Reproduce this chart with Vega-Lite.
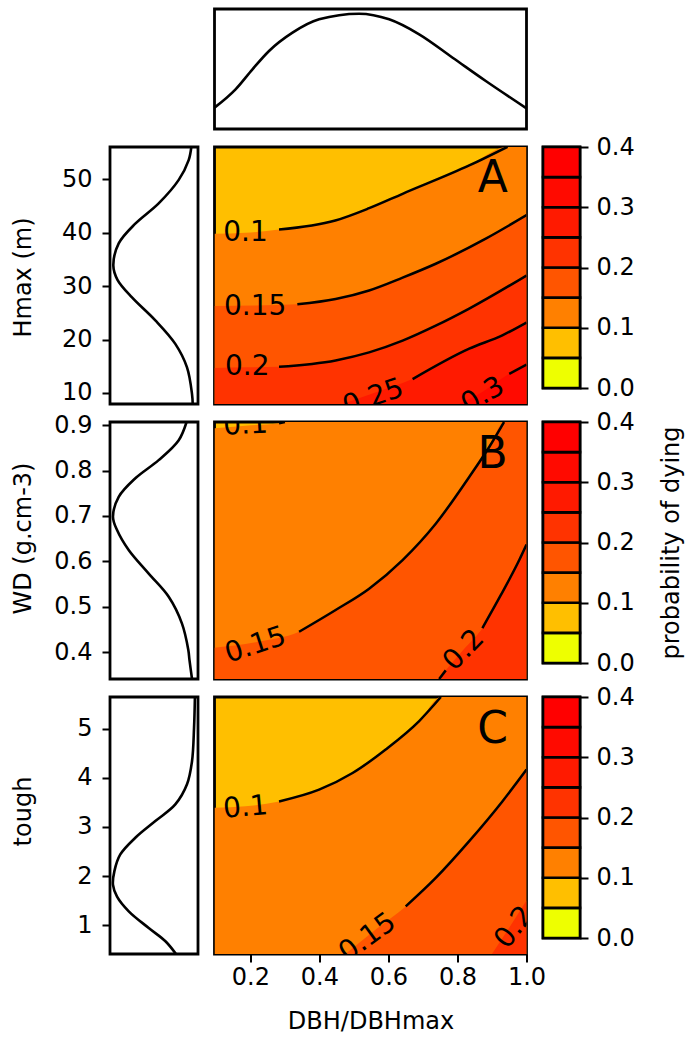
{
  "$schema": "https://vega.github.io/schema/vega-lite/v6.json",
  "padding": {"left": 9, "top": 7, "right": 2, "bottom": 2},
  "columns": 3,
  "spacing": {"row": 18, "column": 16.5},
  "bounds": "flush",
  "align": "each",
  "center": true,
  "config": {
    "font": "DejaVu Sans",
    "view": {"stroke": "black", "strokeWidth": 2.8},
    "axis": {"domain": false, "grid": false, "ticks": true, "tickColor": "black", "tickWidth": 2, "tickSize": 8,
      "labelFont": "DejaVu Sans", "labelFontSize": 24, "labelColor": "black", "labelFlush": false, "labelOverlap": false,
      "titleFont": "DejaVu Sans", "titleFontSize": 24, "titleFontWeight": "normal", "titleColor": "black"},
    "text": {"font": "DejaVu Sans", "color": "black", "align": "center", "baseline": "middle", "fontSize": 28}
  },
  "datasets": {
    "bands": [
      {"level": 0, "hi": 0.05}, {"level": 0.05, "hi": 0.1}, {"level": 0.1, "hi": 0.15}, {"level": 0.15, "hi": 0.2},
      {"level": 0.2, "hi": 0.25}, {"level": 0.25, "hi": 0.3}, {"level": 0.3, "hi": 0.35}, {"level": 0.35, "hi": 0.4}
    ],
    "contours": [
      {"panel": "A", "level": 0.1, "x": 0.096, "v": 39.8}, {"panel": "A", "level": 0.1, "x": 0.186, "v": 40.0}, {"panel": "A", "level": 0.1, "x": 0.283, "v": 40.6}, {"panel": "A", "level": 0.1, "x": 0.446, "v": 42.3}, {"panel": "A", "level": 0.1, "x": 0.544, "v": 44.6}, {"panel": "A", "level": 0.1, "x": 0.641, "v": 47.3}, {"panel": "A", "level": 0.1, "x": 0.834, "v": 52.6}, {"panel": "A", "level": 0.1, "x": 0.945, "v": 56.1}, {"panel": "A", "level": 0.1, "x": 1.0, "v": 56.1},
      {"panel": "A", "level": 0.15, "x": 0.096, "v": 26.3}, {"panel": "A", "level": 0.15, "x": 0.214, "v": 26.4}, {"panel": "A", "level": 0.15, "x": 0.336, "v": 26.6}, {"panel": "A", "level": 0.15, "x": 0.447, "v": 27.6}, {"panel": "A", "level": 0.15, "x": 0.544, "v": 29.2}, {"panel": "A", "level": 0.15, "x": 0.641, "v": 31.6}, {"panel": "A", "level": 0.15, "x": 0.737, "v": 34.2}, {"panel": "A", "level": 0.15, "x": 0.882, "v": 38.9}, {"panel": "A", "level": 0.15, "x": 1.0, "v": 43.3},
      {"panel": "A", "level": 0.2, "x": 0.096, "v": 14.7}, {"panel": "A", "level": 0.2, "x": 0.191, "v": 14.8}, {"panel": "A", "level": 0.2, "x": 0.283, "v": 14.9}, {"panel": "A", "level": 0.2, "x": 0.447, "v": 16.1}, {"panel": "A", "level": 0.2, "x": 0.544, "v": 17.6}, {"panel": "A", "level": 0.2, "x": 0.641, "v": 19.8}, {"panel": "A", "level": 0.2, "x": 0.737, "v": 22.6}, {"panel": "A", "level": 0.2, "x": 0.834, "v": 25.8}, {"panel": "A", "level": 0.2, "x": 1.0, "v": 32.0},
      {"panel": "A", "level": 0.25, "x": 0.467, "v": 7.94}, {"panel": "A", "level": 0.25, "x": 0.554, "v": 9.9}, {"panel": "A", "level": 0.25, "x": 0.670, "v": 12.6}, {"panel": "A", "level": 0.25, "x": 0.834, "v": 18.3}, {"panel": "A", "level": 0.25, "x": 0.930, "v": 20.8}, {"panel": "A", "level": 0.25, "x": 1.0, "v": 23.2},
      {"panel": "A", "level": 0.3, "x": 0.805, "v": 7.94}, {"panel": "A", "level": 0.3, "x": 0.872, "v": 10.2}, {"panel": "A", "level": 0.3, "x": 0.950, "v": 13.6}, {"panel": "A", "level": 0.3, "x": 1.0, "v": 15.3},
      {"panel": "B", "level": 0.1, "x": 0.096, "v": 0.893}, {"panel": "B", "level": 0.1, "x": 0.186, "v": 0.899}, {"panel": "B", "level": 0.1, "x": 0.283, "v": 0.904}, {"panel": "B", "level": 0.1, "x": 0.300, "v": 0.907}, {"panel": "B", "level": 0.1, "x": 1.0, "v": 0.907},
      {"panel": "B", "level": 0.15, "x": 0.096, "v": 0.410}, {"panel": "B", "level": 0.15, "x": 0.215, "v": 0.422}, {"panel": "B", "level": 0.15, "x": 0.341, "v": 0.445}, {"panel": "B", "level": 0.15, "x": 0.447, "v": 0.493}, {"panel": "B", "level": 0.15, "x": 0.544, "v": 0.540}, {"panel": "B", "level": 0.15, "x": 0.641, "v": 0.603}, {"panel": "B", "level": 0.15, "x": 0.737, "v": 0.683}, {"panel": "B", "level": 0.15, "x": 0.834, "v": 0.786}, {"panel": "B", "level": 0.15, "x": 0.892, "v": 0.852}, {"panel": "B", "level": 0.15, "x": 0.935, "v": 0.907}, {"panel": "B", "level": 0.15, "x": 1.0, "v": 0.907},
      {"panel": "B", "level": 0.2, "x": 0.747, "v": 0.341}, {"panel": "B", "level": 0.2, "x": 0.766, "v": 0.360}, {"panel": "B", "level": 0.2, "x": 0.819, "v": 0.407}, {"panel": "B", "level": 0.2, "x": 0.872, "v": 0.453}, {"panel": "B", "level": 0.2, "x": 0.925, "v": 0.525}, {"panel": "B", "level": 0.2, "x": 0.979, "v": 0.603}, {"panel": "B", "level": 0.2, "x": 1.0, "v": 0.637},
      {"panel": "C", "level": 0.1, "x": 0.096, "v": 3.39}, {"panel": "C", "level": 0.1, "x": 0.186, "v": 3.42}, {"panel": "C", "level": 0.1, "x": 0.283, "v": 3.52}, {"panel": "C", "level": 0.1, "x": 0.399, "v": 3.76}, {"panel": "C", "level": 0.1, "x": 0.496, "v": 4.10}, {"panel": "C", "level": 0.1, "x": 0.592, "v": 4.58}, {"panel": "C", "level": 0.1, "x": 0.689, "v": 5.16}, {"panel": "C", "level": 0.1, "x": 0.752, "v": 5.65}, {"panel": "C", "level": 0.1, "x": 1.0, "v": 5.65},
      {"panel": "C", "level": 0.15, "x": 0.475, "v": 0.41}, {"panel": "C", "level": 0.15, "x": 0.565, "v": 0.92}, {"panel": "C", "level": 0.15, "x": 0.650, "v": 1.38}, {"panel": "C", "level": 0.15, "x": 0.737, "v": 1.96}, {"panel": "C", "level": 0.15, "x": 0.834, "v": 2.71}, {"panel": "C", "level": 0.15, "x": 0.930, "v": 3.52}, {"panel": "C", "level": 0.15, "x": 1.0, "v": 4.17},
      {"panel": "C", "level": 0.2, "x": 0.900, "v": 0.41}, {"panel": "C", "level": 0.2, "x": 0.955, "v": 1.0}, {"panel": "C", "level": 0.2, "x": 1.0, "v": 1.5}
    ],
    "lines": [
      {"panel": "A", "id": "a1", "x": 0.283, "v": 40.6}, {"panel": "A", "id": "a1", "x": 0.446, "v": 42.3}, {"panel": "A", "id": "a1", "x": 0.544, "v": 44.6}, {"panel": "A", "id": "a1", "x": 0.641, "v": 47.3}, {"panel": "A", "id": "a1", "x": 0.834, "v": 52.6}, {"panel": "A", "id": "a1", "x": 0.945, "v": 56.1},
      {"panel": "A", "id": "a2", "x": 0.336, "v": 26.6}, {"panel": "A", "id": "a2", "x": 0.447, "v": 27.6}, {"panel": "A", "id": "a2", "x": 0.544, "v": 29.2}, {"panel": "A", "id": "a2", "x": 0.641, "v": 31.6}, {"panel": "A", "id": "a2", "x": 0.737, "v": 34.2}, {"panel": "A", "id": "a2", "x": 0.882, "v": 38.9}, {"panel": "A", "id": "a2", "x": 1.0, "v": 43.3},
      {"panel": "A", "id": "a3", "x": 0.283, "v": 14.9}, {"panel": "A", "id": "a3", "x": 0.447, "v": 16.1}, {"panel": "A", "id": "a3", "x": 0.544, "v": 17.6}, {"panel": "A", "id": "a3", "x": 0.641, "v": 19.8}, {"panel": "A", "id": "a3", "x": 0.737, "v": 22.6}, {"panel": "A", "id": "a3", "x": 0.834, "v": 25.8}, {"panel": "A", "id": "a3", "x": 1.0, "v": 32.0},
      {"panel": "A", "id": "a4", "x": 0.670, "v": 12.6}, {"panel": "A", "id": "a4", "x": 0.834, "v": 18.3}, {"panel": "A", "id": "a4", "x": 0.930, "v": 20.8}, {"panel": "A", "id": "a4", "x": 1.0, "v": 23.2},
      {"panel": "A", "id": "a5", "x": 0.950, "v": 13.6}, {"panel": "A", "id": "a5", "x": 1.0, "v": 15.3},
      {"panel": "B", "id": "b1", "x": 0.283, "v": 0.904}, {"panel": "B", "id": "b1", "x": 0.300, "v": 0.907},
      {"panel": "B", "id": "b2", "x": 0.341, "v": 0.445}, {"panel": "B", "id": "b2", "x": 0.447, "v": 0.493}, {"panel": "B", "id": "b2", "x": 0.544, "v": 0.540}, {"panel": "B", "id": "b2", "x": 0.641, "v": 0.603}, {"panel": "B", "id": "b2", "x": 0.737, "v": 0.683}, {"panel": "B", "id": "b2", "x": 0.834, "v": 0.786}, {"panel": "B", "id": "b2", "x": 0.892, "v": 0.852}, {"panel": "B", "id": "b2", "x": 0.935, "v": 0.907},
      {"panel": "B", "id": "b3", "x": 0.747, "v": 0.341}, {"panel": "B", "id": "b3", "x": 0.766, "v": 0.360},
      {"panel": "B", "id": "b4", "x": 0.872, "v": 0.453}, {"panel": "B", "id": "b4", "x": 0.925, "v": 0.525}, {"panel": "B", "id": "b4", "x": 0.979, "v": 0.603}, {"panel": "B", "id": "b4", "x": 1.0, "v": 0.637},
      {"panel": "C", "id": "c1", "x": 0.283, "v": 3.52}, {"panel": "C", "id": "c1", "x": 0.399, "v": 3.76}, {"panel": "C", "id": "c1", "x": 0.496, "v": 4.10}, {"panel": "C", "id": "c1", "x": 0.592, "v": 4.58}, {"panel": "C", "id": "c1", "x": 0.689, "v": 5.16}, {"panel": "C", "id": "c1", "x": 0.752, "v": 5.65},
      {"panel": "C", "id": "c2", "x": 0.650, "v": 1.38}, {"panel": "C", "id": "c2", "x": 0.737, "v": 1.96}, {"panel": "C", "id": "c2", "x": 0.834, "v": 2.71}, {"panel": "C", "id": "c2", "x": 0.930, "v": 3.52}, {"panel": "C", "id": "c2", "x": 1.0, "v": 4.17}
    ],
    "labels": [
      {"panel": "A", "id": "A1", "label": "0.1", "x": 0.186, "v": 39.9},
      {"panel": "A", "id": "A2", "label": "0.15", "x": 0.214, "v": 26.1},
      {"panel": "A", "id": "A3", "label": "0.2", "x": 0.191, "v": 14.8},
      {"panel": "A", "id": "A4", "label": "0.25", "x": 0.556, "v": 9.1},
      {"panel": "A", "id": "A5", "label": "0.3", "x": 0.874, "v": 9.5},
      {"panel": "B", "id": "B1", "label": "0.1", "x": 0.186, "v": 0.899},
      {"panel": "B", "id": "B2", "label": "0.15", "x": 0.215, "v": 0.415},
      {"panel": "B", "id": "B3", "label": "0.2", "x": 0.819, "v": 0.404},
      {"panel": "C", "id": "C1", "label": "0.1", "x": 0.186, "v": 3.39},
      {"panel": "C", "id": "C2", "label": "0.15", "x": 0.54, "v": 0.74},
      {"panel": "C", "id": "C3", "label": "0.2", "x": 0.966, "v": 0.95}
    ],
    "letters": [
      {"panel": "A", "letter": "A", "x": 0.902, "v": 50.0},
      {"panel": "B", "letter": "B", "x": 0.902, "v": 0.834},
      {"panel": "C", "letter": "C", "x": 0.902, "v": 4.97}
    ],
    "dens_top": [
      {"x": 0.096, "d": 0.178}, {"x": 0.157, "d": 0.331}, {"x": 0.206, "d": 0.4975}, {"x": 0.254, "d": 0.65}, {"x": 0.322, "d": 0.8025}, {"x": 0.399, "d": 0.914}, {"x": 0.515, "d": 0.961}, {"x": 0.602, "d": 0.914}, {"x": 0.689, "d": 0.789}, {"x": 0.786, "d": 0.594}, {"x": 0.882, "d": 0.40}, {"x": 1.0, "d": 0.1725}
    ],
    "dens_left": [
      {"panel": "A", "v": 56.06, "d": 0.076}, {"panel": "A", "v": 53.6, "d": 0.106}, {"panel": "A", "v": 49.9, "d": 0.219}, {"panel": "A", "v": 45.5, "d": 0.447}, {"panel": "A", "v": 41.7, "d": 0.7125}, {"panel": "A", "v": 38.0, "d": 0.901}, {"panel": "A", "v": 33.8, "d": 0.962}, {"panel": "A", "v": 31.2, "d": 0.915}, {"panel": "A", "v": 27.9, "d": 0.75}, {"panel": "A", "v": 23.6, "d": 0.485}, {"panel": "A", "v": 19.2, "d": 0.258}, {"panel": "A", "v": 14.8, "d": 0.125}, {"panel": "A", "v": 9.8, "d": 0.068}, {"panel": "A", "v": 7.94, "d": 0.06},
      {"panel": "B", "v": 0.907, "d": 0.13}, {"panel": "B", "v": 0.867, "d": 0.219}, {"panel": "B", "v": 0.823, "d": 0.447}, {"panel": "B", "v": 0.783, "d": 0.712}, {"panel": "B", "v": 0.742, "d": 0.901}, {"panel": "B", "v": 0.698, "d": 0.966}, {"panel": "B", "v": 0.669, "d": 0.92}, {"panel": "B", "v": 0.625, "d": 0.788}, {"panel": "B", "v": 0.573, "d": 0.56}, {"panel": "B", "v": 0.522, "d": 0.333}, {"panel": "B", "v": 0.463, "d": 0.182}, {"panel": "B", "v": 0.405, "d": 0.11}, {"panel": "B", "v": 0.383, "d": 0.097}, {"panel": "B", "v": 0.341, "d": 0.068},
      {"panel": "C", "v": 5.65, "d": 0.035}, {"panel": "C", "v": 5.02, "d": 0.045}, {"panel": "C", "v": 4.34, "d": 0.068}, {"panel": "C", "v": 3.87, "d": 0.125}, {"panel": "C", "v": 3.46, "d": 0.258}, {"panel": "C", "v": 3.12, "d": 0.485}, {"panel": "C", "v": 2.78, "d": 0.712}, {"panel": "C", "v": 2.44, "d": 0.883}, {"panel": "C", "v": 2.1, "d": 0.95}, {"panel": "C", "v": 1.82, "d": 0.966}, {"panel": "C", "v": 1.58, "d": 0.92}, {"panel": "C", "v": 1.28, "d": 0.787}, {"panel": "C", "v": 0.94, "d": 0.56}, {"panel": "C", "v": 0.67, "d": 0.37}, {"panel": "C", "v": 0.41, "d": 0.25}
    ]
  },
  "concat": [
    {"width": 1, "height": 1, "view": {"stroke": null}, "data": {"values": [{"a": 1}]}, "mark": {"type": "point", "opacity": 0}},
    {
      "width": 312, "height": 120,
      "data": {"name": "dens_top"},
      "mark": {"type": "line", "color": "black", "strokeWidth": 2.6, "interpolate": "monotone"},
      "encoding": {
        "x": {"field": "x", "type": "quantitative", "scale": {"domain": [0.096, 1.0], "nice": false, "zero": false}, "axis": null},
        "y": {"field": "d", "type": "quantitative", "scale": {"domain": [0, 1], "nice": false}, "axis": null}
      }
    },
    {"width": 1, "height": 1, "view": {"stroke": null}, "data": {"values": [{"a": 1}]}, "mark": {"type": "point", "opacity": 0}},

    {
      "width": 88, "height": 257,
      "data": {"name": "dens_left"},
      "transform": [{"filter": "datum.panel === 'A'"}],
      "mark": {"type": "line", "color": "black", "strokeWidth": 2.6, "interpolate": "catmull-rom", "clip": true},
      "encoding": {
        "x": {"field": "d", "type": "quantitative", "scale": {"domain": [0, 1], "nice": false, "reverse": true}, "axis": null},
        "y": {"field": "v", "type": "quantitative", "scale": {"domain": [7.94, 56.06], "nice": false, "zero": false},
              "axis": {"values": [10, 20, 30, 40, 50], "title": "Hmax (m)", "labelPadding": 10, "titleAngle": 270, "titleX": -80, "titleY": 130, "titleAlign": "center", "titleBaseline": "alphabetic"}},
        "order": {"field": "v", "type": "quantitative"}
      }
    },
    {
      "width": 312, "height": 257,
      "view": {"fill": "#FFBF00"},
      "encoding": {
        "x": {"field": "x", "type": "quantitative", "scale": {"domain": [0.096, 1.0], "nice": false, "zero": false}, "axis": null},
        "y": {"field": "v", "type": "quantitative", "scale": {"domain": [7.94, 56.06], "nice": false, "zero": false}, "axis": null}
      },
      "layer": [
        {
          "data": {"name": "contours"},
          "transform": [{"filter": "datum.panel === 'A'"}],
          "mark": {"type": "area", "clip": true, "interpolate": "monotone"},
          "encoding": {
            "y": {"field": "v", "type": "quantitative", "stack": null},
            "y2": {"datum": 0},
            "color": {"field": "level", "type": "ordinal", "scale": {"domain": [0, 0.05, 0.1, 0.15, 0.2, 0.25, 0.3, 0.35], "range": ["#EEFF00", "#FFBF00", "#FF8000", "#FF5500", "#FF3300", "#FF1A00", "#FF0A00", "#FF0000"]}, "legend": null}
          }
        },
        {
          "data": {"name": "lines"},
          "transform": [{"filter": "datum.panel === 'A'"}],
          "mark": {"type": "line", "clip": true, "color": "black", "strokeWidth": 2.5, "interpolate": "monotone"},
          "encoding": {"detail": {"field": "id"}}
        },
        {"data": {"name": "labels"}, "transform": [{"filter": "datum.id === 'A1'"}], "mark": {"type": "text", "clip": true, "angle": 0}, "encoding": {"text": {"field": "label"}}},
        {"data": {"name": "labels"}, "transform": [{"filter": "datum.id === 'A2'"}], "mark": {"type": "text", "clip": true, "angle": 0}, "encoding": {"text": {"field": "label"}}},
        {"data": {"name": "labels"}, "transform": [{"filter": "datum.id === 'A3'"}], "mark": {"type": "text", "clip": true, "angle": 0}, "encoding": {"text": {"field": "label"}}},
        {"data": {"name": "labels"}, "transform": [{"filter": "datum.id === 'A4'"}], "mark": {"type": "text", "clip": true, "angle": -19}, "encoding": {"text": {"field": "label"}}},
        {"data": {"name": "labels"}, "transform": [{"filter": "datum.id === 'A5'"}], "mark": {"type": "text", "clip": true, "angle": -30}, "encoding": {"text": {"field": "label"}}},
        {
          "data": {"name": "letters"},
          "transform": [{"filter": "datum.panel === 'A'"}],
          "mark": {"type": "text", "fontSize": 44},
          "encoding": {"text": {"field": "letter"}}
        }
      ]
    },
    {
      "width": 37, "height": 241,
      "data": {"name": "bands"},
      "mark": {"type": "rect", "stroke": "black", "strokeWidth": 2.6},
      "encoding": {
        "x": {"datum": 0, "type": "quantitative", "scale": {"domain": [0, 1], "nice": false}, "axis": null},
        "x2": {"datum": 1},
        "y": {"field": "level", "type": "quantitative", "scale": {"domain": [0, 0.4], "nice": false}, "axis": {"orient": "right", "values": [0, 0.1, 0.2, 0.3, 0.4], "format": ".1f", "title": null, "labelPadding": 8}},
        "y2": {"field": "hi"},
        "color": {"field": "level", "type": "ordinal", "scale": {"domain": [0, 0.05, 0.1, 0.15, 0.2, 0.25, 0.3, 0.35], "range": ["#EEFF00", "#FFBF00", "#FF8000", "#FF5500", "#FF3300", "#FF1A00", "#FF0A00", "#FF0000"]}, "legend": null}
      }
    },

    {
      "width": 88, "height": 257,
      "data": {"name": "dens_left"},
      "transform": [{"filter": "datum.panel === 'B'"}],
      "mark": {"type": "line", "color": "black", "strokeWidth": 2.6, "interpolate": "catmull-rom", "clip": true},
      "encoding": {
        "x": {"field": "d", "type": "quantitative", "scale": {"domain": [0, 1], "nice": false, "reverse": true}, "axis": null},
        "y": {"field": "v", "type": "quantitative", "scale": {"domain": [0.341, 0.907], "nice": false, "zero": false},
              "axis": {"values": [0.4, 0.5, 0.6, 0.7, 0.8, 0.9], "format": ".1f", "title": "WD (g.cm-3)", "labelPadding": 10, "titleAngle": 270, "titleX": -80, "titleY": 116, "titleAlign": "center", "titleBaseline": "alphabetic"}},
        "order": {"field": "v", "type": "quantitative"}
      }
    },
    {
      "width": 312, "height": 257,
      "view": {"fill": "#FFBF00"},
      "encoding": {
        "x": {"field": "x", "type": "quantitative", "scale": {"domain": [0.096, 1.0], "nice": false, "zero": false}, "axis": null},
        "y": {"field": "v", "type": "quantitative", "scale": {"domain": [0.341, 0.907], "nice": false, "zero": false}, "axis": null}
      },
      "layer": [
        {
          "data": {"name": "contours"},
          "transform": [{"filter": "datum.panel === 'B'"}],
          "mark": {"type": "area", "clip": true, "interpolate": "monotone"},
          "encoding": {
            "y": {"field": "v", "type": "quantitative", "stack": null},
            "y2": {"datum": 0},
            "color": {"field": "level", "type": "ordinal", "scale": {"domain": [0, 0.05, 0.1, 0.15, 0.2, 0.25, 0.3, 0.35], "range": ["#EEFF00", "#FFBF00", "#FF8000", "#FF5500", "#FF3300", "#FF1A00", "#FF0A00", "#FF0000"]}, "legend": null}
          }
        },
        {
          "data": {"name": "lines"},
          "transform": [{"filter": "datum.panel === 'B'"}],
          "mark": {"type": "line", "clip": true, "color": "black", "strokeWidth": 2.5, "interpolate": "monotone"},
          "encoding": {"detail": {"field": "id"}}
        },
        {"data": {"name": "labels"}, "transform": [{"filter": "datum.id === 'B1'"}], "mark": {"type": "text", "clip": true, "angle": -3}, "encoding": {"text": {"field": "label"}}},
        {"data": {"name": "labels"}, "transform": [{"filter": "datum.id === 'B2'"}], "mark": {"type": "text", "clip": true, "angle": -18}, "encoding": {"text": {"field": "label"}}},
        {"data": {"name": "labels"}, "transform": [{"filter": "datum.id === 'B3'"}], "mark": {"type": "text", "clip": true, "angle": -46}, "encoding": {"text": {"field": "label"}}},
        {
          "data": {"name": "letters"},
          "transform": [{"filter": "datum.panel === 'B'"}],
          "mark": {"type": "text", "fontSize": 44},
          "encoding": {"text": {"field": "letter"}}
        }
      ]
    },
    {
      "width": 37, "height": 241,
      "data": {"name": "bands"},
      "mark": {"type": "rect", "stroke": "black", "strokeWidth": 2.6},
      "encoding": {
        "x": {"datum": 0, "type": "quantitative", "scale": {"domain": [0, 1], "nice": false}, "axis": null},
        "x2": {"datum": 1},
        "y": {"field": "level", "type": "quantitative", "scale": {"domain": [0, 0.4], "nice": false}, "axis": {"orient": "right", "values": [0, 0.1, 0.2, 0.3, 0.4], "format": ".1f", "title": "probability of dying", "labelPadding": 8, "titleAngle": 270, "titleX": 98, "titleAlign": "center", "titleBaseline": "alphabetic"}},
        "y2": {"field": "hi"},
        "color": {"field": "level", "type": "ordinal", "scale": {"domain": [0, 0.05, 0.1, 0.15, 0.2, 0.25, 0.3, 0.35], "range": ["#EEFF00", "#FFBF00", "#FF8000", "#FF5500", "#FF3300", "#FF1A00", "#FF0A00", "#FF0000"]}, "legend": null}
      }
    },

    {
      "width": 88, "height": 257,
      "data": {"name": "dens_left"},
      "transform": [{"filter": "datum.panel === 'C'"}],
      "mark": {"type": "line", "color": "black", "strokeWidth": 2.6, "interpolate": "catmull-rom", "clip": true},
      "encoding": {
        "x": {"field": "d", "type": "quantitative", "scale": {"domain": [0, 1], "nice": false, "reverse": true}, "axis": null},
        "y": {"field": "v", "type": "quantitative", "scale": {"domain": [0.41, 5.65], "nice": false, "zero": false},
              "axis": {"values": [1, 2, 3, 4, 5], "title": "tough", "labelPadding": 10, "titleAngle": 270, "titleX": -80, "titleY": 114, "titleAlign": "center", "titleBaseline": "alphabetic"}},
        "order": {"field": "v", "type": "quantitative"}
      }
    },
    {
      "width": 312, "height": 257,
      "view": {"fill": "#FFBF00"},
      "encoding": {
        "x": {"field": "x", "type": "quantitative", "scale": {"domain": [0.096, 1.0], "nice": false, "zero": false},
              "axis": {"values": [0.2, 0.4, 0.6, 0.8, 1.0], "format": ".1f", "title": "DBH/DBHmax", "labelPadding": 3, "titleY": 74, "titleBaseline": "alphabetic"}},
        "y": {"field": "v", "type": "quantitative", "scale": {"domain": [0.41, 5.65], "nice": false, "zero": false}, "axis": null}
      },
      "layer": [
        {
          "data": {"name": "contours"},
          "transform": [{"filter": "datum.panel === 'C'"}],
          "mark": {"type": "area", "clip": true, "interpolate": "monotone"},
          "encoding": {
            "y": {"field": "v", "type": "quantitative", "stack": null},
            "y2": {"datum": -5},
            "color": {"field": "level", "type": "ordinal", "scale": {"domain": [0, 0.05, 0.1, 0.15, 0.2, 0.25, 0.3, 0.35], "range": ["#EEFF00", "#FFBF00", "#FF8000", "#FF5500", "#FF3300", "#FF1A00", "#FF0A00", "#FF0000"]}, "legend": null}
          }
        },
        {
          "data": {"name": "lines"},
          "transform": [{"filter": "datum.panel === 'C'"}],
          "mark": {"type": "line", "clip": true, "color": "black", "strokeWidth": 2.5, "interpolate": "monotone"},
          "encoding": {"detail": {"field": "id"}}
        },
        {"data": {"name": "labels"}, "transform": [{"filter": "datum.id === 'C1'"}], "mark": {"type": "text", "clip": true, "angle": -5}, "encoding": {"text": {"field": "label"}}},
        {"data": {"name": "labels"}, "transform": [{"filter": "datum.id === 'C2'"}], "mark": {"type": "text", "clip": true, "angle": -36}, "encoding": {"text": {"field": "label"}}},
        {"data": {"name": "labels"}, "transform": [{"filter": "datum.id === 'C3'"}], "mark": {"type": "text", "clip": true, "angle": -52}, "encoding": {"text": {"field": "label"}}},
        {
          "data": {"name": "letters"},
          "transform": [{"filter": "datum.panel === 'C'"}],
          "mark": {"type": "text", "fontSize": 44},
          "encoding": {"text": {"field": "letter"}}
        }
      ]
    },
    {
      "width": 37, "height": 241,
      "data": {"name": "bands"},
      "mark": {"type": "rect", "stroke": "black", "strokeWidth": 2.6},
      "encoding": {
        "x": {"datum": 0, "type": "quantitative", "scale": {"domain": [0, 1], "nice": false}, "axis": null},
        "x2": {"datum": 1},
        "y": {"field": "level", "type": "quantitative", "scale": {"domain": [0, 0.4], "nice": false}, "axis": {"orient": "right", "values": [0, 0.1, 0.2, 0.3, 0.4], "format": ".1f", "title": null, "labelPadding": 8}},
        "y2": {"field": "hi"},
        "color": {"field": "level", "type": "ordinal", "scale": {"domain": [0, 0.05, 0.1, 0.15, 0.2, 0.25, 0.3, 0.35], "range": ["#EEFF00", "#FFBF00", "#FF8000", "#FF5500", "#FF3300", "#FF1A00", "#FF0A00", "#FF0000"]}, "legend": null}
      }
    }
  ]
}
